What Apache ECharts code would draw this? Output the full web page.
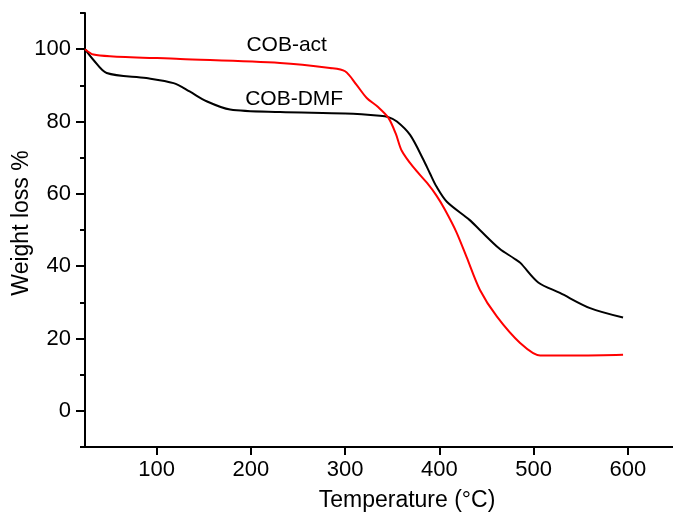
<!DOCTYPE html>
<html lang="en">
<head>
    <meta charset="UTF-8">
    <title>TGA</title>
    <script src="https://cdn.jsdelivr.net/npm/echarts@6/dist/echarts.min.js"></script>
    <style>
        html, body { margin: 0; padding: 0; background: #fff; }
        #chart1 { width: 673px; height: 516px; }
    </style>
</head>
<body>
<div id="chart1"></div>
<script type="text/javascript">
    // COB-act (red)
    var actTemp   = [24, 33, 54, 125, 231, 284, 300, 312, 323, 335, 346, 354, 360, 372, 387, 397, 406, 418, 429, 443, 461, 486, 507, 550, 595];
    var actWeight = [100, 98.5, 98.0, 97.3, 96.2, 94.8, 93.9, 90.2, 86.5, 84.0, 81.0, 76.5, 72.0, 67.5, 63.0, 59.5, 55.6, 49.5, 42.5, 33.5, 26.1, 18.7, 15.3, 15.3, 15.5];
    // COB-DMF (black)
    var dmfTemp   = [24, 33, 47, 89, 118, 135, 153, 178, 231, 300, 337, 346, 355, 369, 383, 390, 397, 408, 432, 443, 464, 479, 486, 505, 528, 560, 595];
    var dmfWeight = [100, 97, 93.4, 92, 90.6, 88.3, 85.6, 83.3, 82.6, 82.2, 81.6, 81.2, 80, 76.3, 69.5, 65.7, 62, 57.8, 52.8, 50, 44.8, 42.2, 40.9, 35.5, 32.6, 28.4, 25.8];

    var xTicks = [100, 200, 300, 400, 500, 600];
    var yTicks = [0, 20, 40, 60, 80, 100];
    var yMinorTicks = [-10, 10, 30, 50, 70, 90, 110];

    function zip(a, b) {
        var out = [];
        for (var i = 0; i < a.length; i++) out.push([a[i], b[i]]);
        return out;
    }

    var font = 'Liberation Sans, Arial, sans-serif';
    var myChart1 = echarts.init(document.getElementById('chart1'));
    myChart1.setOption({
        animation: false,
        backgroundColor: '#fff',
        grid: { left: 85, top: 13, right: 0, bottom: 69, outerBoundsMode: 'none' },
        xAxis: {
            type: 'value',
            min: 24,
            max: 648,
            name: 'Temperature (°C)',
            nameLocation: 'middle',
            nameGap: 42,
            nameMoveOverlap: false,
            nameTextStyle: { fontFamily: font, fontSize: 23, color: '#000', padding: [0, 0, 0, 56] },
            axisLine: { show: true, onZero: false, lineStyle: { color: '#000', width: 2 } },
            axisTick: { show: true, length: 8, lineStyle: { color: '#000', width: 2 }, customValues: xTicks },
            axisLabel: { fontFamily: font, fontSize: 22, color: '#000', margin: 12, customValues: xTicks },
            splitLine: { show: false }
        },
        yAxis: [{
            type: 'value',
            min: -10,
            max: 110,
            name: 'Weight loss %',
            nameLocation: 'middle',
            nameGap: 52,
            nameMoveOverlap: false,
            nameTextStyle: { fontFamily: font, fontSize: 23, color: '#000', padding: [0, 0, 0, 14] },
            axisLine: { show: true, onZero: false, lineStyle: { color: '#000', width: 2 } },
            axisTick: { show: true, length: 9, lineStyle: { color: '#000', width: 2 }, customValues: yTicks },
            axisLabel: { fontFamily: font, fontSize: 22, color: '#000', margin: 14, customValues: yTicks },
            splitLine: { show: false }
        }, {
            // minor ticks only
            type: 'value',
            position: 'left',
            min: -10,
            max: 110,
            axisLine: { show: false, onZero: false },
            axisTick: { show: true, length: 5, lineStyle: { color: '#000', width: 2 }, customValues: yMinorTicks },
            axisLabel: { show: false },
            splitLine: { show: false }
        }],
        series: [{
            name: 'COB-DMF',
            type: 'line',
            data: zip(dmfTemp, dmfWeight),
            showSymbol: false,
            smooth: 0.3,
            lineStyle: { color: '#000', width: 2 },
            markPoint: {
                symbol: 'circle',
                symbolSize: 1,
                itemStyle: { color: 'transparent' },
                label: { show: true, position: 'inside', formatter: 'COB-DMF', fontFamily: font, fontSize: 21, color: '#000' },
                data: [{ coord: [246, 86.2] }]
            }
        }, {
            name: 'COB-act',
            type: 'line',
            data: zip(actTemp, actWeight),
            showSymbol: false,
            smooth: 0.3,
            lineStyle: { color: '#ff0000', width: 2 },
            markPoint: {
                symbol: 'circle',
                symbolSize: 1,
                itemStyle: { color: 'transparent' },
                label: { show: true, position: 'inside', formatter: 'COB-act', fontFamily: font, fontSize: 21, color: '#000' },
                data: [{ coord: [238, 101] }]
            }
        }]
    });
</script>
</body>
</html>
